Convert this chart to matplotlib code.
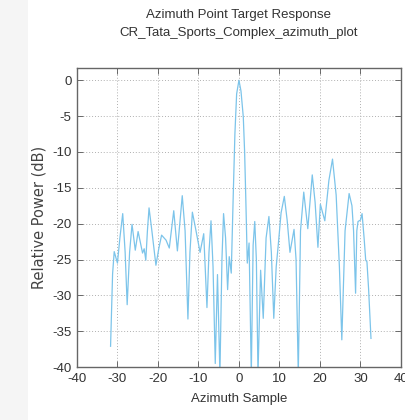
import matplotlib
matplotlib.use("Agg")
import matplotlib.pyplot as plt
from matplotlib.patches import Rectangle

azimuth_sample = [
    -31.7, -31.2, -30.8, -30.0, -29.4, -28.7, -28.1, -27.6, -27.0, -26.4,
    -25.6, -24.9, -23.8, -23.4, -23.0, -22.6, -22.2, -21.5, -20.5, -19.8,
    -19.1, -18.0, -17.2, -16.1, -15.2, -14.0, -13.3, -12.6, -12.1, -11.5,
    -10.6, -9.6, -8.7, -7.9, -7.4, -6.9, -6.4, -5.85, -5.3, -4.7,
    -4.2, -3.8, -3.3, -2.8, -2.4, -1.9, -1.4, -1.0, -0.57, 0.0,
    0.5, 1.07, 1.4, 1.7, 2.06, 2.5, 3.05, 3.5, 3.9, 4.3,
    4.7, 5.35, 6.0, 6.7, 7.4, 8.0, 8.6, 9.2, 9.7, 10.4,
    11.2, 11.9, 12.6, 13.6, 14.1, 14.65, 15.2, 16.0, 17.0, 18.1,
    18.8, 19.5, 20.1, 21.2, 22.2, 23.1, 24.0, 24.8, 25.4, 26.2,
    27.2, 27.9, 28.3, 28.8, 29.1, 29.4, 30.0, 30.4, 30.9, 31.3,
    31.6, 32.0, 32.6,
]
relative_power_db = [
    -37.1, -27.0, -23.9, -25.5, -22.0, -18.6, -24.0, -31.3, -24.0, -20.1,
    -23.7, -21.1, -24.1, -23.5, -25.1, -21.0, -17.8, -21.0, -25.8, -23.5,
    -21.6, -22.3, -23.4, -18.2, -23.8, -16.1, -21.0, -33.3, -24.0, -18.4,
    -21.0, -24.0, -21.4, -31.7, -24.0, -19.6, -26.0, -39.5, -27.1, -41.0,
    -25.0, -18.6, -22.0, -29.2, -24.6, -26.9, -15.8, -7.5, -1.9, 0.0,
    -1.5, -5.1, -10.0, -16.7, -25.5, -22.7, -41.0, -23.0, -19.7, -25.0,
    -41.0, -26.5, -33.2, -22.0, -19.0, -24.0, -33.2, -26.0, -23.0, -18.5,
    -16.2, -19.5, -24.0, -20.8, -25.0, -41.0, -21.0, -15.6, -20.7, -13.2,
    -17.0, -23.3, -17.3, -19.6, -14.0, -11.0, -16.0, -26.0, -36.2, -21.0,
    -15.8, -17.5, -21.0, -29.7, -21.0, -19.7, -19.5, -18.6, -22.0, -25.1,
    -25.3, -29.0, -36.0,
]
x_ticks = [-40, -30, -20, -10, 0, 10, 20, 30, 40]
y_ticks = [0, -5, -10, -15, -20, -25, -30, -35, -40]
title_lines = ["Azimuth Point Target Response", "CR_Tata_Sports_Complex_azimuth_plot"]

narrow = ["Liberation Sans", "DejaVu Sans"]
text_color = "#333333"

fig = plt.figure(figsize=(4.05, 4.2), dpi=100)
fig.patch.set_facecolor("white")
# light gray strip on the left edge of the screenshot
fig.patches.append(Rectangle((0, 0), 0.07, 1, transform=fig.transFigure,
                             facecolor="#f5f5f5", edgecolor="none", zorder=-10))

ax = fig.add_axes([0.190, 0.126, 0.800, 0.712])
ax.plot(azimuth_sample, relative_power_db, color="#7cc4ea", linewidth=0.9)
ax.set_xlim(-40, 40)
ax.set_ylim(-40, 1.7)
ax.set_xticks(x_ticks)
ax.set_yticks(y_ticks)
ax.set_xticklabels([str(t) for t in x_ticks], family=narrow, fontsize=9.5, color=text_color)
ax.set_yticklabels([str(t) for t in y_ticks], family=narrow, fontsize=9.5, color=text_color)
ax.tick_params(direction="in", top=True, right=True, length=4, width=0.6,
               color="#555555", pad=4)
ax.grid(True, linestyle=(0, (1, 2)), color="#b0b0b0", linewidth=0.7)
for s in ax.spines.values():
    s.set_color("#666666")
    s.set_linewidth(1.0)

ax.set_xlabel("Azimuth Sample", family=narrow, fontsize=9.5, color=text_color, labelpad=6)
ax.set_ylabel("Relative Power (dB)", family=["DejaVu Sans"], fontsize=10.5,
              color="#444444", labelpad=4)
fig.text(0.59, 0.965, title_lines[0], ha="center", va="center",
         family=narrow, fontsize=9.5, color=text_color)
fig.text(0.59, 0.922, title_lines[1], ha="center", va="center",
         family=narrow, fontsize=9.5, color=text_color)

fig.savefig("out.png", dpi=100)
